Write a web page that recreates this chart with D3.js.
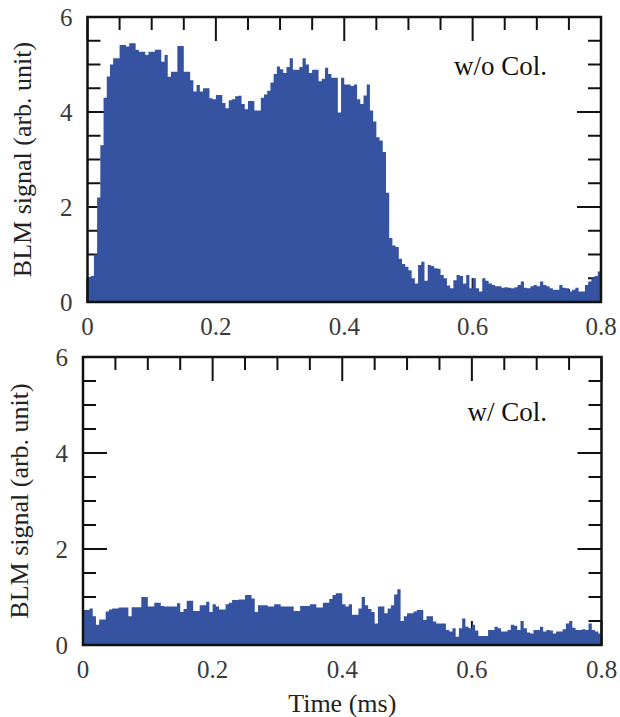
<!DOCTYPE html>
<html><head><meta charset="utf-8">
<script src="https://cdn.jsdelivr.net/npm/d3@7"></script>
<style>html,body{margin:0;padding:0;background:#fff;}svg{display:block;}</style>
</head><body>
<script>
// Bin width (ms) and data
const binWidth = 0.005;
const withoutCol = [
0.52,0.55,1.0,2.2,3.3,4.3,4.75,5.0,5.13,5.13,
5.41,5.41,5.38,5.45,5.45,5.31,5.27,5.27,5.20,5.27,
5.27,5.31,5.31,5.06,5.20,4.74,4.85,4.85,5.39,5.39,
4.85,4.85,4.67,4.43,4.57,4.43,4.50,4.50,4.29,4.27,
4.36,4.36,4.19,4.08,4.25,4.27,4.33,4.34,4.17,4.06,
4.23,4.23,4.03,4.03,4.30,4.37,4.45,4.62,4.80,4.96,
4.90,4.82,4.95,5.13,4.89,4.89,4.95,5.13,5.00,4.82,
4.89,4.89,4.65,4.70,4.93,4.80,4.72,4.72,3.99,4.72,
4.58,4.58,4.55,4.58,4.27,4.17,4.35,4.58,4.03,3.80,
3.47,3.40,3.16,2.30,1.35,1.19,1.16,0.91,0.80,0.74,
0.67,0.50,0.39,0.78,0.85,0.45,0.78,0.76,0.71,0.70,
0.57,0.50,0.35,0.29,0.46,0.57,0.55,0.39,0.57,0.29,
0.50,0.29,0.22,0.50,0.45,0.39,0.36,0.33,0.33,0.30,
0.31,0.30,0.29,0.31,0.36,0.43,0.30,0.29,0.33,0.36,
0.33,0.43,0.36,0.33,0.29,0.26,0.26,0.36,0.30,0.29,
0.22,0.26,0.30,0.22,0.22,0.36,0.43,0.50,0.55,0.64
];
const withCol = [
0.73,0.73,0.76,0.60,0.42,0.53,0.53,0.70,0.74,0.76,
0.76,0.78,0.78,0.78,0.60,0.785,0.785,0.785,1.0,1.0,
0.80,0.80,0.88,0.88,0.81,0.80,0.80,0.80,0.80,0.87,
0.69,0.75,0.92,0.92,0.71,0.71,0.83,0.83,0.90,0.69,
0.85,0.80,0.74,0.74,0.85,0.88,0.94,0.94,0.95,0.95,
1.04,1.04,0.97,0.69,0.83,0.83,0.83,0.80,0.80,0.85,
0.85,0.80,0.80,0.80,0.80,0.71,0.71,0.81,0.81,0.81,
0.85,0.85,0.78,0.78,0.88,0.88,0.96,1.04,1.08,1.08,
0.85,0.80,0.85,0.63,0.63,0.76,1.0,0.83,0.75,0.69,
0.45,0.80,0.80,0.66,0.76,0.83,1.05,1.16,0.50,0.60,
0.66,0.66,0.70,0.73,0.73,0.52,0.60,0.60,0.49,0.45,
0.45,0.45,0.31,0.28,0.35,0.17,0.35,0.55,0.38,0.35,
0.42,0.30,0.19,0.19,0.19,0.31,0.31,0.38,0.35,0.28,
0.28,0.31,0.42,0.40,0.31,0.50,0.35,0.26,0.24,0.31,
0.31,0.38,0.28,0.31,0.30,0.24,0.28,0.28,0.33,0.45,
0.50,0.36,0.31,0.31,0.33,0.31,0.45,0.31,0.28,0.24
];
const xTicks = [0, 0.2, 0.4, 0.6, 0.8];
const yTicks = [0, 2, 4, 6];
const panelLabels = ["w/o Col.", "w/ Col."];
const yTitle = "BLM signal (arb. unit)";
const xTitle = "Time (ms)";

const W = 620, H = 717;
const svg = d3.select("body").append("svg").attr("width", W).attr("height", H);
const FILL = "#3553a1";
const FONT = "'Liberation Serif','Times New Roman',serif";

const panels = [
  {data: withoutCol, label: panelLabels[0], left: 87.5, right: 601, top: 17, bottom: 302, labelY: 75, titleX: 31},
  {data: withCol, label: panelLabels[1], left: 83, right: 601.5, top: 357, bottom: 645, labelY: 421, titleX: 28}
];

panels.forEach((p, pi) => {
  const x = d3.scaleLinear().domain([0, 0.8]).range([p.left, p.right]);
  const y = d3.scaleLinear().domain([0, 6]).range([p.bottom, p.top]);
  const g = svg.append("g");

  // ticks (drawn under the fill)
  const minorX = d3.range(0, 0.8001, 0.05);
  const minorY = d3.range(0, 6.001, 0.5);
  const tg = g.append("g").attr("stroke", "#111").attr("stroke-width", 2);
  minorX.forEach(v => {
    const major = Math.abs(v / 0.2 - Math.round(v / 0.2)) < 1e-6;
    const len = major ? 24 : 13;
    tg.append("line").attr("x1", x(v)).attr("x2", x(v)).attr("y1", p.top).attr("y2", p.top + len);
    tg.append("line").attr("x1", x(v)).attr("x2", x(v)).attr("y1", p.bottom).attr("y2", p.bottom - len);
  });
  minorY.forEach(v => {
    const major = Math.abs(v / 2 - Math.round(v / 2)) < 1e-6;
    const len = major ? 24 : 13;
    tg.append("line").attr("y1", y(v)).attr("y2", y(v)).attr("x1", p.left).attr("x2", p.left + len);
    tg.append("line").attr("y1", y(v)).attr("y2", y(v)).attr("x1", p.right).attr("x2", p.right - len);
  });

  // filled histogram
  const pts = p.data.map((v, i) => [i * binWidth, v]);
  pts.push([0.8, p.data[p.data.length - 1]]);
  const area = d3.area()
    .x(d => x(d[0]))
    .y0(y(0))
    .y1(d => y(d[1]))
    .curve(d3.curveStepAfter);
  g.append("path").datum(pts).attr("d", area).attr("fill", FILL);

  // frame
  g.append("rect").attr("x", p.left).attr("y", p.top)
    .attr("width", p.right - p.left).attr("height", p.bottom - p.top)
    .attr("fill", "none").attr("stroke", "#111").attr("stroke-width", 2.5);

  // tick labels
  xTicks.forEach(v => {
    g.append("text").attr("x", x(v)).attr("y", p.bottom + 33)
      .attr("text-anchor", "middle").attr("font-family", FONT).attr("font-size", 25)
      .attr("fill", "#3a3a3a").text(v === 0 ? "0" : String(v));
  });
  yTicks.forEach(v => {
    g.append("text").attr("x", p.left - 15).attr("y", y(v) + 8.5)
      .attr("text-anchor", "end").attr("font-family", FONT).attr("font-size", 25)
      .attr("fill", "#3a3a3a").text(String(v));
  });

  // y title
  const cy = (p.top + p.bottom) / 2;
  g.append("text").attr("transform", `translate(${p.titleX},${cy}) rotate(-90)`)
    .attr("text-anchor", "middle").attr("font-family", FONT).attr("font-size", 26)
    .attr("fill", "#222").text(yTitle);

  // panel label
  g.append("text").attr("x", 547).attr("y", p.labelY)
    .attr("text-anchor", "end").attr("font-family", FONT).attr("font-size", 27)
    .attr("fill", "#111").text(p.label);

  if (pi === 1) {
    g.append("text").attr("x", (p.left + p.right) / 2).attr("y", 712)
      .attr("text-anchor", "middle").attr("font-family", FONT).attr("font-size", 26)
      .attr("fill", "#222").text(xTitle);
  }
});
</script>
</body></html>
